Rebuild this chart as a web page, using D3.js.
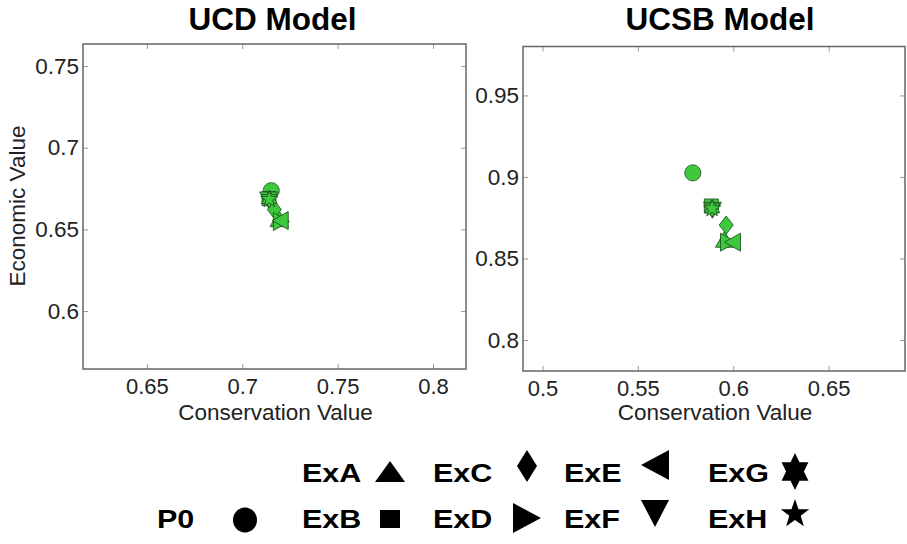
<!DOCTYPE html>
<html>
<head>
<meta charset="utf-8">
<script src="https://cdn.jsdelivr.net/npm/d3@7"></script>
<style>
  html, body { margin: 0; padding: 0; background: #fff; }
  svg { display: block; }
</style>
</head>
<body>
<svg id="chart" width="907" height="544"></svg>
<script>
// ---------------- data ----------------
const seriesNames = ["P0", "ExA", "ExB", "ExC", "ExD", "ExE", "ExF", "ExG", "ExH"];
const seriesShapes = ["circle", "triUp", "square", "diamond", "triRight", "triLeft", "triDown", "hexagram", "star"];

const ucdConservation = [0.7152, 0.7193, 0.7140, 0.7168, 0.7205, 0.7199, 0.7138, 0.7142, 0.7142];
const ucdEconomic     = [0.6737, 0.6566, 0.6688, 0.6621, 0.6548, 0.6554, 0.6680, 0.6686, 0.6684];

const ucsbConservation = [0.5788, 0.5954, 0.5885, 0.5963, 0.5975, 0.5996, 0.5891, 0.5889, 0.5889];
const ucsbEconomic     = [0.9025, 0.8618, 0.8822, 0.8705, 0.8600, 0.8600, 0.8796, 0.8808, 0.8806];

const ucdXTicks = [0.65, 0.7, 0.75, 0.8];
const ucdYTicks = [0.6, 0.65, 0.7, 0.75];
const ucsbXTicks = [0.5, 0.55, 0.6, 0.65];
const ucsbYTicks = [0.8, 0.85, 0.9, 0.95];

const ucdXDomain = [0.6165, 0.8173];
const ucdYDomain = [0.5645, 0.7635];
const ucsbXDomain = [0.4898, 0.6900];
const ucsbYDomain = [0.7810, 0.9800];

// ---------------- shapes ----------------
function unitVerts(shape) {
  const v = [];
  if (shape === "square") return [[-1,-1],[1,-1],[1,1],[-1,1]];
  if (shape === "diamond") return [[0,-1],[1,0],[0,1],[-1,0]];
  if (shape === "triUp") return [[0,-1],[1,1],[-1,1]];
  if (shape === "triDown") return [[-1,-1],[1,-1],[0,1]];
  if (shape === "triLeft") return [[-1,0],[1,-1],[1,1]];
  if (shape === "triRight") return [[1,0],[-1,1],[-1,-1]];
  let n, inner;
  if (shape === "hexagram") { n = 6; inner = 1 / Math.sqrt(3); }
  else if (shape === "star") { n = 5; inner = 0.40; }
  else if (shape === "circle") {
    for (let k = 0; k < 48; k++) { const a = 2 * Math.PI * k / 48; v.push([Math.cos(a), Math.sin(a)]); }
    return v;
  }
  for (let k = 0; k < 2 * n; k++) {
    const a = -Math.PI / 2 + Math.PI * k / n;
    const r = (k % 2 === 0) ? 1 : inner;
    v.push([r * Math.cos(a), r * Math.sin(a)]);
  }
  return v;
}
function shapePath(shape, hw, hh) {
  const line = d3.line().curve(d3.curveLinearClosed);
  return line(unitVerts(shape).map(p => [p[0] * hw, p[1] * hh]));
}

const plotSize = {
  circle: [8, 8], square: [7, 7], diamond: [7, 9], triUp: [9, 8], triDown: [9, 8],
  triLeft: [8, 9], triRight: [8, 9], hexagram: [9, 9], star: [9, 9]
};
const legendSize = {
  circle: [12, 12.5], square: [10, 9], diamond: [10, 16], triUp: [15, 10.5], triDown: [14, 13.5],
  triLeft: [14, 15], triRight: [14, 15], hexagram: [15.5, 18.5], star: [15, 15]
};

// ---------------- drawing ----------------
const svg = d3.select("#chart");
const FONT = "'Liberation Sans', Arial, Helvetica, sans-serif";

function panel(cfg) {
  const x = d3.scaleLinear().domain(cfg.xDomain).range([cfg.left, cfg.right]);
  const y = d3.scaleLinear().domain(cfg.yDomain).range([cfg.bottom, cfg.top]);
  const g = svg.append("g");

  const tl = 5;
  const axisColor = "#666";
  const axB = d3.axisBottom(x).tickValues(cfg.xTicks).tickSize(-tl).tickFormat(d3.format("~g")).tickPadding(9.5);
  const axT = d3.axisTop(x).tickValues(cfg.xTicks).tickSize(-tl).tickFormat("");
  const axL = d3.axisLeft(y).tickValues(cfg.yTicks).tickSize(-tl).tickFormat(d3.format("~g")).tickPadding(4);
  const axR = d3.axisRight(y).tickValues(cfg.yTicks).tickSize(-tl).tickFormat("");

  const gb = g.append("g").attr("transform", `translate(0,${cfg.bottom})`).call(axB);
  const gt = g.append("g").attr("transform", `translate(0,${cfg.top})`).call(axT);
  const gl = g.append("g").attr("transform", `translate(${cfg.left},0)`).call(axL);
  const gr = g.append("g").attr("transform", `translate(${cfg.right},0)`).call(axR);
  [gb, gt, gl, gr].forEach(a => {
    a.select(".domain").remove();
    a.selectAll(".tick line").attr("stroke", "#999").attr("stroke-width", 1);
    a.selectAll(".tick text").attr("font-family", FONT).attr("font-size", 22).attr("fill", "#222");
  });
  gl.selectAll(".tick text").attr("font-size", 22.5);

  g.append("rect")
    .attr("x", cfg.left).attr("y", cfg.top)
    .attr("width", cfg.right - cfg.left).attr("height", cfg.bottom - cfg.top)
    .attr("fill", "none").attr("stroke", axisColor).attr("stroke-width", 1.5);

  g.append("text")
    .attr("x", cfg.titleX).attr("y", 30)
    .attr("text-anchor", "middle")
    .attr("font-family", FONT).attr("font-weight", "bold").attr("font-size", 31.5)
    .attr("fill", "#000").text(cfg.title);

  g.append("text")
    .attr("x", cfg.xLabelX).attr("y", 420)
    .attr("text-anchor", "middle")
    .attr("font-family", FONT).attr("font-size", 22.5).attr("fill", "#222")
    .text("Conservation Value");

  if (cfg.yLabel) {
    g.append("text")
      .attr("transform", `translate(25,206) rotate(-90)`)
      .attr("text-anchor", "middle")
      .attr("font-family", FONT).attr("font-size", 22.5).attr("fill", "#222")
      .text(cfg.yLabel);
  }

  const pts = seriesNames.map((n, i) => ({ name: n, shape: seriesShapes[i], cx: cfg.xs[i], cy: cfg.ys[i] }));
  g.append("g").selectAll("path").data(pts).join("path")
    .attr("transform", d => `translate(${x(d.cx)},${y(d.cy)})`)
    .attr("d", d => shapePath(d.shape, plotSize[d.shape][0], plotSize[d.shape][1]))
    .attr("fill", "#3ec83e")
    .attr("stroke", "#1f4f1f")
    .attr("stroke-width", 1)
    .attr("stroke-opacity", 0.85);
}

panel({
  left: 83, right: 466, top: 44, bottom: 369,
  xDomain: ucdXDomain, yDomain: ucdYDomain,
  xTicks: ucdXTicks, yTicks: ucdYTicks,
  xs: ucdConservation, ys: ucdEconomic,
  title: "UCD Model", titleX: 272.5, xLabelX: 275.5, yLabel: "Economic Value"
});
panel({
  left: 523, right: 905, top: 46.5, bottom: 371,
  xDomain: ucsbXDomain, yDomain: ucsbYDomain,
  xTicks: ucsbXTicks, yTicks: ucsbYTicks,
  xs: ucsbConservation, ys: ucsbEconomic,
  title: "UCSB Model", titleX: 720, xLabelX: 715, yLabel: null
});

// ---------------- legend ----------------
const legTextX = [157, 302, 433, 564, 708];
const legMarkX = [245, 390, 527, 655, 795];
const legBase = [481.5, 528];
const legMarkY = {
  circle: 520, square: 519, diamond: 466, triUp: 471.5, triDown: 513.5,
  triLeft: 465, triRight: 518, hexagram: 471.5, star: 514
};
const lg = svg.append("g");
seriesNames.forEach((n, i) => {
  const col = i === 0 ? 0 : 1 + Math.floor((i - 1) / 2);
  const row = i === 0 ? 1 : (i - 1) % 2;
  const shape = seriesShapes[i];
  const t = lg.append("text")
    .attr("x", legTextX[col]).attr("y", legBase[row])
    .attr("font-family", FONT).attr("font-weight", "bold").attr("font-size", 25)
    .attr("fill", "#000").text(n);
  const w = t.node().getComputedTextLength();
  t.attr("textLength", w * 1.22).attr("lengthAdjust", "spacingAndGlyphs");
  lg.append("path")
    .attr("transform", `translate(${legMarkX[col]},${legMarkY[shape]})`)
    .attr("d", shapePath(shape, legendSize[shape][0], legendSize[shape][1]))
    .attr("fill", "#000");
});
</script>
</body>
</html>
